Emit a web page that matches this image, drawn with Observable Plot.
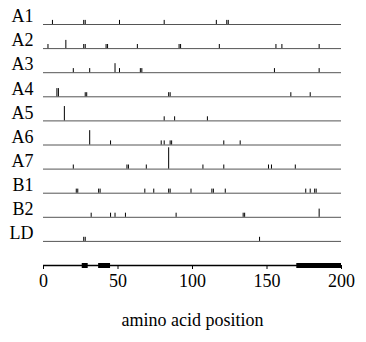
<!DOCTYPE html>
<html><head><meta charset="utf-8">
<script src="https://cdn.jsdelivr.net/npm/d3@7"></script>
<script src="https://cdn.jsdelivr.net/npm/@observablehq/plot@0.6"></script>
<style>body{margin:0;background:#fff} svg text{font-family:"Liberation Serif", serif !important;}</style>
</head><body><div id="chart"></div>
<script>
// Row labels (proteins / groups)
const rows = ["A1","A2","A3","A4","A5","A6","A7","B1","B2","LD"];

// Sites per row: [amino acid position, count]
const A1 = [[6,1],[27,1],[28,1],[51,1],[81,1],[116,1],[123,1],[124,1]];
const A2 = [[3,1],[15,2],[27,1],[28,1],[42,1],[43,1],[63,1],[91,1],[92,1],[118,1],[156,1],[160,1],[185,1]];
const A3 = [[20,1],[31,1],[48,2.2],[51,1],[65,1],[66,1],[155,1],[185,1]];
const A4 = [[9,2],[10,2],[28,1],[29,1],[84,1],[85,1],[166,1],[179,1]];
const A5 = [[14,3.5],[81,1],[88,1],[110,1]];
const A6 = [[31,3.5],[45,1],[79,1],[81,1],[85,1],[86,1],[121,1],[132,1]];
const A7 = [[20,1],[56,1],[57,1],[69,1],[84,5.2],[107,1],[121,1],[151,1],[153,1],[169,1]];
const B1 = [[22,1],[23,1],[37,1],[38,1],[68,1],[74,1],[84,1],[85,1],[99,1],[113,1],[114,1],[122,1],[176,1],[179,1],[182,1],[183,1]];
const B2 = [[32,1],[45,1],[48,1],[55,1],[89,1],[134,1],[135,1],[185,2]];
const LD = [[27,1],[28,1],[145,1]];
const sites = {A1, A2, A3, A4, A5, A6, A7, B1, B2, LD};

// Protein domain segments on the position axis
const domains = [[26,30],[37,45],[170,200]];
const xTicks = [0,50,100,150,200];

const axisRow = rows.length;   // index of the position axis row
const unit = 0.17;             // row units per count
const serif = "'Liberation Serif', 'Times New Roman', serif";

const ticks = rows.flatMap((r, i) => sites[r].map(([p, h]) => ({row: i, p, h})));

const chart = Plot.plot({
  width: 366, height: 342,
  marginTop: 24, marginBottom: 77, marginLeft: 43, marginRight: 25,
  x: {domain: [0, 200]},
  y: {domain: [0, axisRow], reverse: true, axis: null},
  style: {fontFamily: serif, fontSize: "18px", color: "#000", background: "#fff"},
  marks: [
    Plot.ruleY(rows, {y: (d, i) => i, x1: 0, x2: 200, stroke: "#555", strokeWidth: 1}),
    Plot.ruleX(ticks, {x: "p", y1: "row", y2: d => d.row - d.h * unit, stroke: "#000", strokeWidth: 1}),
    Plot.ruleY([axisRow], {x1: 0, x2: 200, stroke: "#000", strokeWidth: 1.3}),
    Plot.ruleY(domains, {y: () => axisRow, x1: d => d[0], x2: d => d[1], stroke: "#000", strokeWidth: 5}),
    Plot.axisX({ticks: xTicks, tickSize: 4, tickPadding: 5, fontSize: 18, fontFamily: serif, label: "amino acid position", labelAnchor: "center", labelArrow: "none", labelOffset: 60}),
    Plot.axisY({ticks: rows.map((d, i) => i), tickFormat: i => rows[i], tickSize: 0, tickPadding: 10, dy: -8, fontSize: 18, fontFamily: serif, label: null})
  ]
});
document.getElementById("chart").appendChild(chart);
</script>
</body></html>
